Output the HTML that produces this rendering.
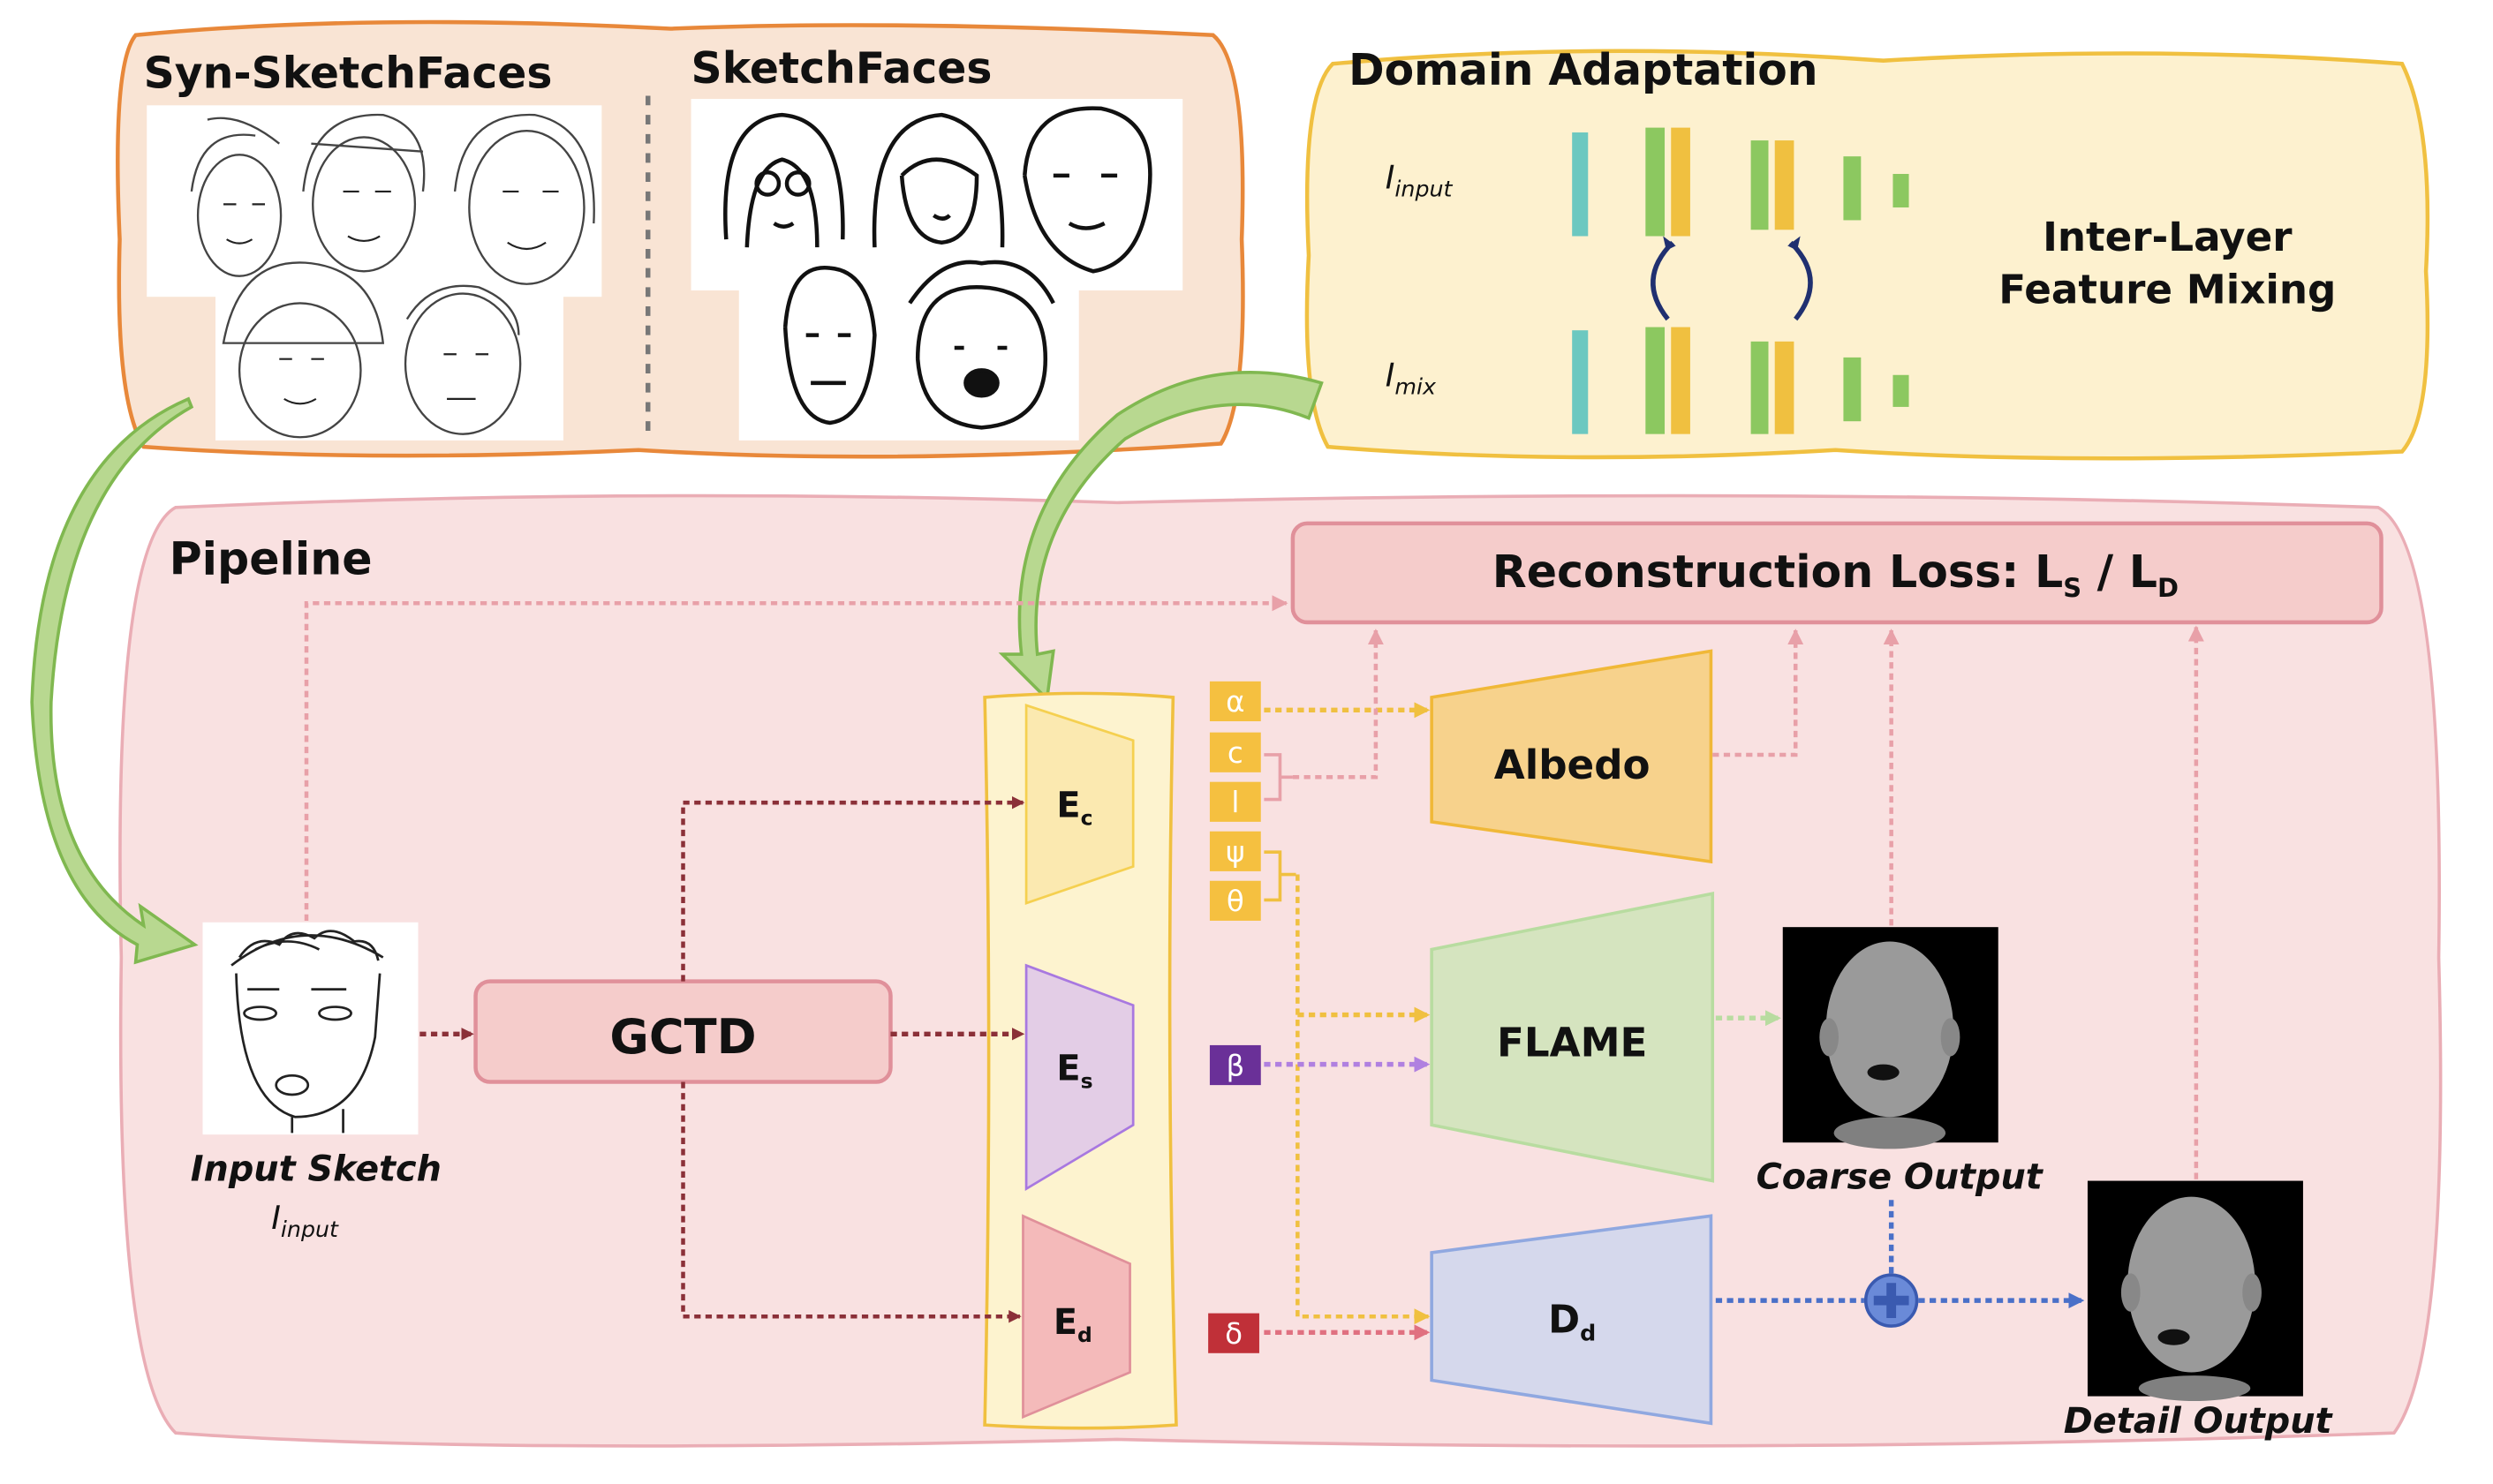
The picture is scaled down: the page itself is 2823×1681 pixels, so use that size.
<!DOCTYPE html>
<html><head><meta charset="utf-8"><style>
html,body{margin:0;padding:0;background:#fff;}
svg{display:block;}
text{font-family:"DejaVu Sans","Liberation Sans",sans-serif;}
</style></head><body>
<svg width="2823" height="1681" viewBox="0 0 1562 930" preserveAspectRatio="none" xmlns="http://www.w3.org/2000/svg">
<defs>
<marker id="mR" markerWidth="8" markerHeight="8" refX="7" refY="4" orient="auto" markerUnits="userSpaceOnUse"><path d="M0,0 L8,4 L0,8z" fill="#8b3038"/></marker>
<marker id="mP" markerWidth="10" markerHeight="10" refX="9" refY="5" orient="auto" markerUnits="userSpaceOnUse"><path d="M0,0 L10,5 L0,10z" fill="#e8a0a8"/></marker>
<marker id="mY" markerWidth="10" markerHeight="10" refX="9" refY="5" orient="auto" markerUnits="userSpaceOnUse"><path d="M0,0 L10,5 L0,10z" fill="#f0c040"/></marker>
<marker id="mV" markerWidth="10" markerHeight="10" refX="9" refY="5" orient="auto" markerUnits="userSpaceOnUse"><path d="M0,0 L10,5 L0,10z" fill="#b080e0"/></marker>
<marker id="mD" markerWidth="10" markerHeight="10" refX="9" refY="5" orient="auto" markerUnits="userSpaceOnUse"><path d="M0,0 L10,5 L0,10z" fill="#e07080"/></marker>
<marker id="mG" markerWidth="10" markerHeight="10" refX="9" refY="5" orient="auto" markerUnits="userSpaceOnUse"><path d="M0,0 L10,5 L0,10z" fill="#b8dca0"/></marker>
<marker id="mB" markerWidth="10" markerHeight="10" refX="9" refY="5" orient="auto" markerUnits="userSpaceOnUse"><path d="M0,0 L10,5 L0,10z" fill="#4a70c8"/></marker>
</defs>
<rect width="1562" height="930" fill="#fff"/>
<!-- top left box -->
<path d="M85,22 Q230,8 420,18 Q560,12 760,22 Q782,40 778,150 Q782,250 765,278 Q560,292 400,282 Q230,290 90,280 Q72,250 75,150 Q70,40 85,22Z" fill="#f9e4d4" stroke="#e8883a" stroke-width="2.5"/>
<text x="90" y="55" font-size="27" font-weight="bold" fill="#111">Syn-SketchFaces</text>
<text x="433" y="52" font-size="27" font-weight="bold" fill="#111">SketchFaces</text>
<line x1="406" y1="60" x2="406" y2="272" stroke="#777" stroke-width="3" stroke-dasharray="6,6"/>
<g fill="#fff">
<rect x="92" y="66" width="285" height="120"/><rect x="135" y="168" width="218" height="108"/>
<rect x="433" y="62" width="308" height="120"/><rect x="463" y="160" width="213" height="116"/>
</g>
<g fill="none" stroke="#444" stroke-width="1.3">
<ellipse cx="150" cy="135" rx="26" ry="38"/><path d="M120,120 Q125,80 160,85 M130,75 Q150,70 175,90"/>
<ellipse cx="228" cy="128" rx="32" ry="42"/><path d="M190,120 Q195,70 240,72 Q270,80 265,120 M195,90 L265,95"/>
<ellipse cx="330" cy="130" rx="36" ry="48"/><path d="M285,120 Q290,70 335,72 Q375,80 372,140"/>
<ellipse cx="188" cy="232" rx="38" ry="42"/><path d="M140,215 Q150,160 195,165 Q235,170 240,215 Z"/>
<ellipse cx="290" cy="228" rx="36" ry="44"/><path d="M255,200 Q270,175 300,180 Q325,190 325,210"/>
<g stroke="#222" stroke-width="1.2"><path d="M140,128 h8 M158,128 h8 M215,120 h10 M235,120 h10 M315,120 h10 M340,120 h10 M175,225 h8 M195,225 h8 M278,222 h8 M298,222 h8 M142,150 q8,5 16,0 M218,148 q10,6 20,0 M318,152 q12,8 24,0 M178,250 q10,6 20,0 M280,250 h18"/></g>
</g>
<g fill="none" stroke="#111" stroke-width="2.5">
<path d="M455,150 Q450,75 490,72 Q530,75 528,150 M468,155 Q470,105 490,100 Q512,105 512,155"/><circle cx="481" cy="115" r="7"/><circle cx="500" cy="115" r="7"/><path d="M485,140 q6,4 12,0"/>
<path d="M548,155 Q545,75 590,72 Q630,80 628,155"/><path d="M565,110 Q585,90 612,110 Q612,150 590,152 Q568,150 565,110"/><path d="M585,135 q6,4 10,0"/>
<path d="M642,110 Q645,65 690,68 Q725,75 720,120 Q715,165 685,170 Q650,160 642,110"/><path d="M660,110 h10 M690,110 h10 M670,140 q10,6 22,0"/>
<path d="M492,205 Q495,165 520,168 Q545,170 548,210 Q545,262 520,265 Q495,262 492,205"/><path d="M505,210 h8 M525,210 h8 M508,240 h22"/>
<path d="M575,225 Q575,178 615,180 Q655,182 655,225 Q655,265 615,268 Q578,265 575,225"/><path d="M570,190 q20,-30 45,-25 q30,-5 45,25"/><ellipse cx="615" cy="240" rx="10" ry="8" fill="#111"/><path d="M598,218 h6 M625,218 h6"/>
</g>
<!-- domain adaptation -->
<path d="M835,40 Q1000,25 1180,38 Q1350,28 1505,40 Q1525,80 1520,170 Q1525,260 1505,283 Q1300,292 1150,282 Q980,292 832,280 Q815,250 820,160 Q815,60 835,40Z" fill="#fdf1cf" stroke="#f0c040" stroke-width="2.5"/>
<text x="845" y="53" font-size="27" font-weight="bold" fill="#111">Domain Adaptation</text>
<text x="868" y="118" font-size="20" font-style="italic" fill="#111">I<tspan font-size="14" dy="5">input</tspan></text>
<text x="868" y="242" font-size="20" font-style="italic" fill="#111">I<tspan font-size="14" dy="5">mix</tspan></text>
<g>
<rect x="985" y="83" width="10" height="65" fill="#6cc8c0"/><rect x="1031" y="80" width="12" height="68" fill="#8cc860"/><rect x="1047" y="80" width="12" height="68" fill="#f0c040"/>
<rect x="1097" y="88" width="11" height="56" fill="#8cc860"/><rect x="1112" y="88" width="12" height="56" fill="#f0c040"/><rect x="1155" y="98" width="11" height="40" fill="#8cc860"/><rect x="1186" y="109" width="10" height="21" fill="#8cc860"/>
<rect x="985" y="207" width="10" height="65" fill="#6cc8c0"/><rect x="1031" y="205" width="12" height="67" fill="#8cc860"/><rect x="1047" y="205" width="12" height="67" fill="#f0c040"/>
<rect x="1097" y="214" width="11" height="58" fill="#8cc860"/><rect x="1112" y="214" width="12" height="58" fill="#f0c040"/><rect x="1155" y="224" width="11" height="40" fill="#8cc860"/><rect x="1186" y="235" width="10" height="20" fill="#8cc860"/>
</g>
<path d="M1048,152 Q1025,175 1045,200" fill="none" stroke="#203070" stroke-width="3"/><path d="M1042,148 l8,6 l-6,3z" fill="#203070"/>
<path d="M1122,152 Q1145,175 1125,200" fill="none" stroke="#203070" stroke-width="3"/><path d="M1128,148 l-8,6 l6,3z" fill="#203070"/>
<text x="1358" y="157" font-size="25" font-weight="bold" text-anchor="middle" fill="#111">Inter-Layer</text>
<text x="1358" y="190" font-size="25" font-weight="bold" text-anchor="middle" fill="#111">Feature Mixing</text>
<!-- pipeline -->
<path d="M110,318 Q400,305 700,315 Q1100,305 1490,318 Q1532,340 1528,600 Q1535,850 1500,898 Q1100,912 700,902 Q300,912 110,898 Q72,860 76,600 Q70,340 110,318Z" fill="#f9e1e1" stroke="#eaadb5" stroke-width="2"/>
<text x="106" y="360" font-size="28" font-weight="bold" fill="#111">Pipeline</text>
<rect x="810" y="328" width="682" height="62" rx="9" fill="#f5cccb" stroke="#e0909a" stroke-width="2.5"/>
<text x="1150" y="368" font-size="28" font-weight="bold" text-anchor="middle" fill="#111">Reconstruction Loss: L<tspan font-size="16" dy="6">S</tspan><tspan dy="-6"> / L</tspan><tspan font-size="16" dy="6">D</tspan></text>
<!-- green arrows -->
<path d="M120,255 Q40,300 32,440 Q30,540 90,580 L88,568 L122,592 L85,603 L86,592 Q25,560 20,440 Q25,290 118,250Z" fill="#b8d890" stroke="#80b850" stroke-width="2"/>
<path d="M828,240 Q760,220 700,260 Q630,320 640,410 L628,410 L656,438 L660,408 L650,410 Q642,330 705,275 Q765,240 820,262Z" fill="#b8d890" stroke="#80b850" stroke-width="2"/>
<!-- input sketch -->
<rect x="127" y="578" width="135" height="133" fill="#fff"/>
<g fill="none" stroke="#222" stroke-width="1.5"><path d="M148,610 Q150,690 185,700 Q225,700 235,650 L238,610"/><path d="M145,605 Q190,570 240,600 M150,600 q10,-15 25,-8 q8,-12 22,-4 q10,-10 25,2 q12,-2 15,12 M160,595 q20,-10 40,0"/><path d="M155,620 h20 M195,620 h22"/><ellipse cx="163" cy="635" rx="10" ry="4"/><ellipse cx="210" cy="635" rx="10" ry="4"/><ellipse cx="183" cy="680" rx="10" ry="6"/><path d="M183,700 v10 M215,695 v15"/></g>
<text x="198" y="740" font-size="22" font-style="italic" font-weight="bold" text-anchor="middle" fill="#111">Input Sketch</text>
<text x="170" y="770" font-size="20" font-style="italic" fill="#111">I<tspan font-size="14" dy="5">input</tspan></text>
<rect x="298" y="615" width="260" height="63" rx="9" fill="#f5cccb" stroke="#e0909a" stroke-width="2.5"/>
<text x="428" y="660" font-size="30" font-weight="bold" text-anchor="middle" fill="#111">GCTD</text>
<!-- encoder column -->
<path d="M617,437 Q680,432 735,437 Q730,660 737,893 Q680,897 617,893 Q622,660 617,437Z" fill="#fdf3cf" stroke="#f0c040" stroke-width="2"/>
<path d="M643,442 L710,464 L710,543 L643,566Z" fill="#fbe9b0" stroke="#f5d050" stroke-width="1.5"/>
<path d="M643,605 L710,630 L710,705 L643,745Z" fill="#e3cde6" stroke="#a878e0" stroke-width="1.5"/>
<path d="M641,762 L708,792 L708,860 L641,888Z" fill="#f4baba" stroke="#e0909a" stroke-width="1.5"/>
<text x="662" y="512" font-size="22" font-weight="bold" fill="#111">E<tspan font-size="13" dy="5">c</tspan></text>
<text x="662" y="677" font-size="22" font-weight="bold" fill="#111">E<tspan font-size="13" dy="5">s</tspan></text>
<text x="660" y="836" font-size="22" font-weight="bold" fill="#111">E<tspan font-size="13" dy="5">d</tspan></text>
<!-- params -->
<g font-size="18" fill="#fff" text-anchor="middle">
<rect x="758" y="427" width="32" height="25" fill="#f5c040"/><text x="774" y="446">α</text>
<rect x="758" y="459" width="32" height="25" fill="#f5c040"/><text x="774" y="478">c</text>
<rect x="758" y="490" width="32" height="25" fill="#f5c040"/><text x="774" y="509">l</text>
<rect x="758" y="521" width="32" height="25" fill="#f5c040"/><text x="774" y="540">ψ</text>
<rect x="758" y="552" width="32" height="25" fill="#f5c040"/><text x="774" y="571">θ</text>
<rect x="758" y="655" width="32" height="25" fill="#6a3098"/><text x="774" y="674">β</text>
<rect x="757" y="823" width="32" height="25" fill="#c03038"/><text x="773" y="842">δ</text>
</g>
<path d="M792,473 h10 v28 h-10 M802,487 h8" fill="none" stroke="#e8a0a8" stroke-width="2"/>
<path d="M792,534 h10 v30 h-10 M802,548 h10" fill="none" stroke="#f0c040" stroke-width="2"/>
<!-- trapezoids -->
<path d="M897,437 L1072,408 L1072,540 L897,515Z" fill="#f7d28c" stroke="#f0b838" stroke-width="2"/>
<text x="985" y="488" font-size="25" font-weight="bold" text-anchor="middle" fill="#111">Albedo</text>
<path d="M897,595 L1073,560 L1073,740 L897,705Z" fill="#d5e4bf" stroke="#b8dca0" stroke-width="2"/>
<text x="985" y="662" font-size="25" font-weight="bold" text-anchor="middle" fill="#111">FLAME</text>
<path d="M897,785 L1072,762 L1072,892 L897,865Z" fill="#d5d8ec" stroke="#90a8e0" stroke-width="2"/>
<text x="970" y="835" font-size="24" font-weight="bold" fill="#111">D<tspan font-size="14" dy="5">d</tspan></text>
<!-- outputs -->
<rect x="1117" y="581" width="135" height="135" fill="#000"/>
<ellipse cx="1184" cy="645" rx="40" ry="55" fill="#9a9a9a"/><ellipse cx="1184" cy="710" rx="35" ry="10" fill="#808080"/><ellipse cx="1146" cy="650" rx="6" ry="12" fill="#888"/><ellipse cx="1222" cy="650" rx="6" ry="12" fill="#888"/><ellipse cx="1180" cy="672" rx="10" ry="5" fill="#111"/>
<text x="1190" y="745" font-size="22" font-style="italic" font-weight="bold" text-anchor="middle" fill="#111">Coarse Output</text>
<rect x="1308" y="740" width="135" height="135" fill="#000"/>
<ellipse cx="1373" cy="805" rx="40" ry="55" fill="#9a9a9a"/><ellipse cx="1375" cy="870" rx="35" ry="8" fill="#808080"/><ellipse cx="1335" cy="810" rx="6" ry="12" fill="#888"/><ellipse cx="1411" cy="810" rx="6" ry="12" fill="#888"/><ellipse cx="1362" cy="838" rx="10" ry="5" fill="#111"/>
<text x="1377" y="898" font-size="22" font-style="italic" font-weight="bold" text-anchor="middle" fill="#111">Detail Output</text>
<!-- connectors -->
<g fill="none" stroke-width="2.5" stroke-dasharray="4,3">
<path d="M192,577 V378 H806" stroke="#e8a0a8" marker-end="url(#mP)"/>
<path d="M263,648 H296" stroke="#8b3038" stroke-width="3" marker-end="url(#mR)"/>
<path d="M558,648 H641" stroke="#8b3038" stroke-width="3" marker-end="url(#mR)"/>
<path d="M428,615 V503 H641" stroke="#8b3038" marker-end="url(#mR)"/>
<path d="M428,678 V825 H639" stroke="#8b3038" marker-end="url(#mR)"/>
<path d="M792,445 H895" stroke="#f0c040" stroke-width="3" marker-end="url(#mY)"/>
<path d="M810,487 H862 V395" stroke="#e8a0a8" marker-end="url(#mP)"/>
<path d="M1073,473 H1125 V395" stroke="#e8a0a8" marker-end="url(#mP)"/>
<path d="M1185,580 V395" stroke="#e8a0a8" marker-end="url(#mP)"/>
<path d="M1376,739 V393" stroke="#e8a0a8" marker-end="url(#mP)"/>
<path d="M813,548 V825 H895" stroke="#f0c040" marker-end="url(#mY)"/>
<path d="M813,636 H895" stroke="#f0c040" stroke-width="3" marker-end="url(#mY)"/>
<path d="M792,667 H895" stroke="#b080e0" stroke-width="3" marker-end="url(#mV)"/>
<path d="M792,835 H895" stroke="#e07080" stroke-width="3" marker-end="url(#mD)"/>
<path d="M1075,638 H1115" stroke="#b8dca0" stroke-width="3" marker-end="url(#mG)"/>
<path d="M1075,815 H1168 M1202,815 H1305" stroke="#4a70c8" stroke-width="3" marker-end="url(#mB)"/>
<path d="M1185,752 V798" stroke="#4a70c8" stroke-width="3"/>
</g>
<circle cx="1185" cy="815" r="16" fill="#6a8ad8" stroke="#3a5ab0" stroke-width="2"/>
<path d="M1185,804 V826 M1174,815 H1196" stroke="#3a5ab0" stroke-width="6"/>
</svg>
</body></html>
